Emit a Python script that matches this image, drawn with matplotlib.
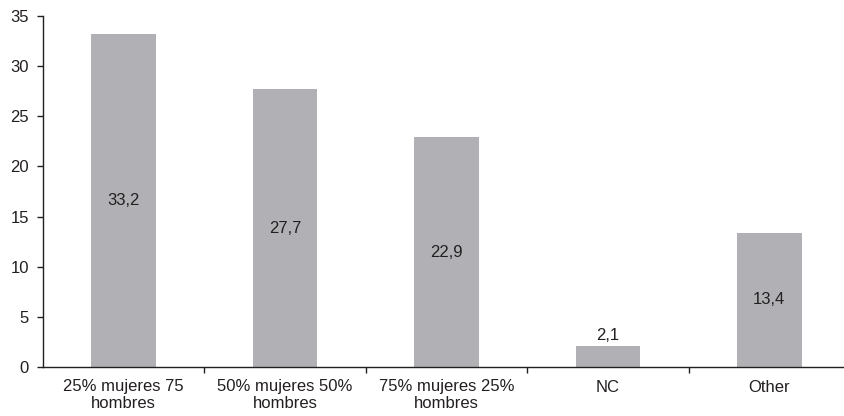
import matplotlib.pyplot as plt
import numpy as np

plt.rcParams['font.family'] = ['Liberation Sans', 'DejaVu Sans']

categories = ['25% mujeres 75\nhombres', '50% mujeres 50%\nhombres',
              '75% mujeres 25%\nhombres', 'NC', 'Other']
values = [33.2, 27.7, 22.9, 2.1, 13.4]
value_labels = ['33,2', '27,7', '22,9', '2,1', '13,4']

text_col = '#231f20'
bar_col = '#b1b1b5'
fs = 12

fig = plt.figure(figsize=(8.44, 4.16), dpi=100)
ax = fig.add_axes([43 / 844, 49 / 416, 807 / 844, 351 / 416])

x = np.arange(len(values))
bars = ax.bar(x, values, width=0.4, color=bar_col, edgecolor='none')

# labels centred in the bar, above it when the bar is too short
for xi, v, lab in zip(x, values, value_labels):
    if v < 5:
        ax.text(xi, v + 0.3, lab, ha='center', va='bottom', fontsize=fs, color=text_col)
    else:
        ax.text(xi, v / 2, lab, ha='center', va='center', fontsize=fs, color=text_col)

ax.set_xlim(-0.5, len(values) - 0.5)
ax.set_ylim(0, 35)
ax.set_yticks(np.arange(0, 36, 5))
ax.set_xticks(x)
ax.set_xticklabels(categories, fontsize=fs, color=text_col, linespacing=1.15)
ax.set_xticks(np.arange(0.5, len(values) - 0.5, 1), minor=True)
ax.tick_params(axis='x', which='major', length=0, pad=9)
ax.tick_params(axis='x', which='minor', length=4, width=1, direction='out', color=text_col)
ax.tick_params(axis='y', length=4, width=1, direction='out', labelsize=fs,
               labelcolor=text_col, color=text_col, pad=6)

for s in ['top', 'right']:
    ax.spines[s].set_visible(False)
for s in ['left', 'bottom']:
    ax.spines[s].set_color(text_col)
    ax.spines[s].set_linewidth(1)

fig.savefig('out.png', dpi=100)
